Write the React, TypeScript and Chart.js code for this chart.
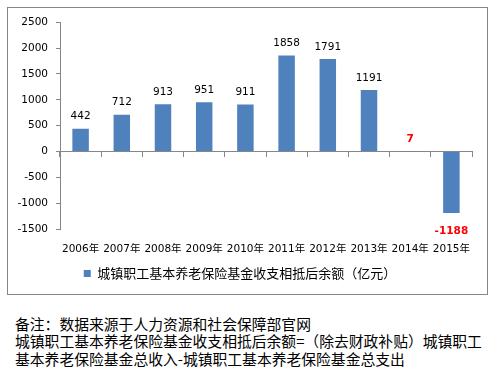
import React, { useEffect, useRef } from "react";
import { Chart, registerables } from "chart.js";

Chart.register(...registerables);

const categories = ["2006年", "2007年", "2008年", "2009年", "2010年", "2011年", "2012年", "2013年", "2014年", "2015年"];
const values = [442, 712, 913, 951, 911, 1858, 1791, 1191, 7, -1188];
const highlighted = [false, false, false, false, false, false, false, false, true, true];
const seriesName = "城镇职工基本养老保险基金收支相抵后余额（亿元）";
const yMin = -1500;
const yMax = 2500;
const yStep = 500;
const notes = [
  "备注：数据来源于人力资源和社会保障部官网",
  "城镇职工基本养老保险基金收支相抵后余额=（除去财政补贴）城镇职工",
  "基本养老保险基金总收入-城镇职工基本养老保险基金总支出",
];

const AXIS = "#868686";
const BAR = "#4F81BD";
const FONT = "'DejaVu Sans', 'Noto Sans CJK SC', sans-serif";

const valueLabels = {
  id: "valueLabels",
  afterDatasetsDraw(chart: any) {
    const ctx = chart.ctx;
    const meta = chart.getDatasetMeta(0);
    ctx.save();
    ctx.textAlign = "center";
    ctx.textBaseline = "middle";
    meta.data.forEach((bar: any, i: number) => {
      const v = values[i];
      const hi = highlighted[i];
      ctx.font = (hi ? "bold " : "") + "10.5px " + FONT;
      ctx.fillStyle = hi ? "#FF0000" : "#000000";
      const y = v >= 0 ? bar.y - 12 : bar.y + 18;
      ctx.fillText(String(v), bar.x, y);
    });
    ctx.restore();
  },
};

function ChartView() {
  const ref = useRef<HTMLCanvasElement | null>(null);
  useEffect(() => {
    if (!ref.current) return;
    const chart = new Chart(ref.current, {
      type: "bar",
      data: {
        labels: categories,
        datasets: [
          {
            label: seriesName,
            data: values,
            backgroundColor: BAR,
            borderWidth: 0,
            xAxisID: "x",
            yAxisID: "y",
            categoryPercentage: 1,
            barPercentage: 0.4,
          },
        ],
      },
      options: {
        animation: false,
        responsive: false,
        devicePixelRatio: 1,
        layout: { padding: { top: 14, right: 15, bottom: 4, left: 0 } },
        font: { family: FONT },
        plugins: {
          tooltip: { enabled: false },
          legend: {
            position: "bottom",
            labels: {
              boxWidth: 7,
              boxHeight: 7,
              padding: 10,
              color: "#000",
              font: { size: 13, family: "'Noto Sans CJK SC', sans-serif" },
            },
          },
        },
        scales: {
          x: {
            type: "category",
            position: "bottom",
            grid: { display: false, drawTicks: false },
            border: { display: false },
            ticks: {
              color: "#000",
              padding: 14,
              maxRotation: 0,
              autoSkip: false,
              font: { size: 10.5, family: FONT },
            },
            afterFit: (s: any) => {
              s.height = 28;
            },
          },
          x2: {
            type: "category",
            position: { y: 0 },
            offset: true,
            grid: { offset: true, drawOnChartArea: false, drawTicks: true, tickLength: 5, color: AXIS },
            border: { display: true, color: AXIS },
            ticks: { display: false },
          },
          y: {
            min: yMin,
            max: yMax,
            ticks: {
              stepSize: yStep,
              padding: 8,
              color: "#000",
              font: { size: 10.5, family: FONT },
              callback: (v: any) => String(v),
            },
            grid: { display: true, drawOnChartArea: false, drawTicks: true, tickLength: 4, color: AXIS },
            border: { display: true, color: AXIS },
            afterFit: (s: any) => {
              s.width = 52;
            },
          },
        },
      } as any,
      plugins: [valueLabels],
    });
    return () => chart.destroy();
  }, []);
  return <canvas ref={ref} width={479} height={286} style={{ display: "block", width: 479, height: 286 }} />;
}

export default function App() {
  return (
    <div style={{ position: "absolute", left: 0, top: 0, width: 494, height: 377, background: "#fff" }}>
      <div
        style={{
          position: "absolute",
          left: 7,
          top: 7,
          width: 481,
          height: 288,
          boxSizing: "border-box",
          border: "1px solid " + AXIS,
        }}
      >
        <ChartView />
      </div>
      <div
        style={{
          position: "absolute",
          left: 15,
          top: 314.5,
          fontFamily: "'Noto Sans CJK SC', sans-serif",
          fontSize: 14.8,
          lineHeight: "17.7px",
          color: "#000",
          whiteSpace: "nowrap",
        }}
      >
        {notes.map((n, i) => (
          <div key={i}>{n}</div>
        ))}
      </div>
    </div>
  );
}
